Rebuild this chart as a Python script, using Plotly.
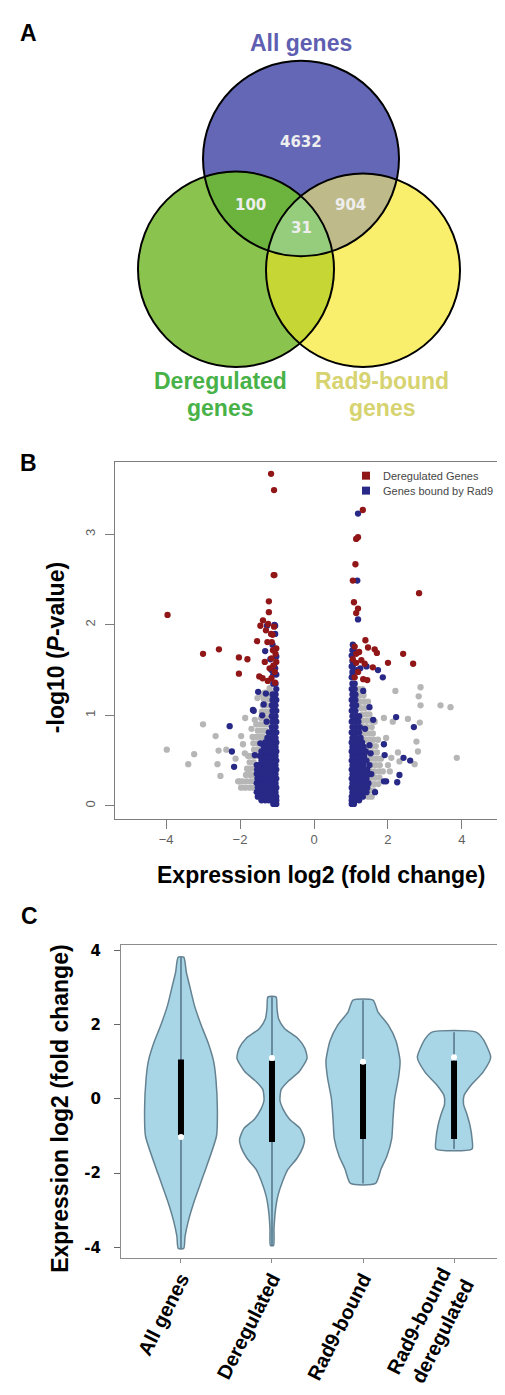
import numpy as np
import plotly.graph_objects as go

W, H = 505, 1395

# ---------------- A: Venn diagram ----------------
region_names = ["All only", "All & Deregulated", "All & Rad9-bound", "All three"]
region_counts = [4632, 100, 904, 31]

# ---------------- B: volcano plot ----------------
red_x = [-3.96, -3.0, -2.57, -2.03, -1.80, -2.03, -1.54, -1.38, -1.22, -1.22, -1.16, -1.14,
         -1.02, -1.11, -1.33, -1.15, -1.02, -1.20, -1.06, -1.48, -1.39, -1.15, -1.24, -1.08,
         -1.16, -1.08, -1.09, -1.07, -1.45, -1.30, -1.26, -1.12, -1.05, -1.25, -1.10, -1.04,
         2.84, 1.32, 1.14, 1.19, 1.12, 1.05, 1.08, 1.19, 1.14, 1.39, 1.46, 1.64, 1.70, 2.41,
         2.68, 2.00, 1.10, 1.14, 1.28, 1.14, 1.37, 1.59, 1.19, 1.33, 1.44, 1.10, 1.05, 1.22]
red_y = [2.11, 1.68, 1.73, 1.64, 1.62, 1.46, 1.82, 2.05, 2.26, 2.14, 1.90, 1.81,
         1.74, 1.72, 1.59, 1.63, 1.59, 1.52, 1.48, 1.43, 1.41, 1.41, 2.01, 1.98,
         3.67, 3.49, 2.55, 2.55, 1.99, 1.94, 1.81, 1.89, 1.36, 1.38, 1.55, 1.68,
         2.35, 3.27, 2.95, 2.97, 2.67, 2.49, 2.25, 2.18, 2.13, 1.83, 1.75, 1.73, 1.69, 1.68,
         1.57, 1.58, 1.76, 1.68, 1.61, 1.58, 1.57, 1.53, 1.48, 1.40, 1.39, 1.42, 1.62, 1.70]

# Rad9-bound genes: scattered points
blue_x = [-1.07, -1.05, -1.27, -1.32, -1.18, -1.05, -1.10, -1.51, -1.65, -1.11, -1.06, -2.28,
          -2.22, -2.16, -1.60, -1.51, -1.24, -1.63, -1.45, -1.40, -1.30, -1.05, -1.12, -1.02,
          -1.08, -1.15, -1.02, -1.10, -1.28, -1.36,
          1.19, 1.17, 1.19, 1.86, 1.73, 1.42, 1.50, 2.22, 2.70, 1.89, 1.91, 1.50, 2.42, 2.60,
          2.31, 2.25, 1.95, 1.89, 1.53, 1.60, 1.55, 1.65, 1.05, 1.10, 1.05, 1.15, 1.05, 1.25,
          1.33, 1.38]
blue_y = [2.00, 1.99, 1.99, 1.71, 1.62, 1.52, 1.45, 1.26, 1.06, 1.17, 0.95, 0.88,
          0.60, 0.43, 0.56, 0.45, 0.71, 1.05, 0.69, 1.00, 1.24, 1.90, 1.78, 1.65,
          1.55, 1.50, 1.45, 1.35, 0.93, 1.12,
          3.23, 2.49, 2.06, 1.42, 1.50, 1.54, 1.09, 0.98, 0.87, 0.68, 0.56, 0.67, 0.53, 0.50,
          0.34, 0.26, 0.27, 0.27, 0.58, 0.95, 0.35, 0.15, 1.78, 1.70, 1.55, 1.50, 1.45, 1.52,
          1.27, 0.85]

# Rad9-bound genes: dense columns next to the |log2FC| = 1 cut (y level -> x values)
blue_rows = {
    0.02: [-1.02, -1.10, 1.02, 1.08],
    0.06: [-1.02, -1.12, -1.22, -1.32, -1.42, 1.02, 1.12, 1.22],
    0.10: [-1.02, -1.12, -1.22, -1.32, -1.42, -1.52, 1.02, 1.12, 1.22, 1.32],
    0.15: [-1.04, -1.14, -1.24, -1.34, -1.44, -1.55, 1.04, 1.14, 1.24, 1.34, 1.42],
    0.20: [-1.02, -1.12, -1.22, -1.32, -1.42, -1.52, 1.02, 1.12, 1.22, 1.32, 1.44],
    0.25: [-1.04, -1.14, -1.24, -1.34, -1.44, -1.55, 1.04, 1.14, 1.24, 1.34, 1.47],
    0.30: [-1.02, -1.12, -1.22, -1.32, -1.42, -1.53, 1.02, 1.12, 1.22, 1.32, 1.42],
    0.35: [-1.04, -1.14, -1.24, -1.34, -1.44, -1.55, 1.04, 1.14, 1.24, 1.34, 1.48],
    0.40: [-1.02, -1.12, -1.22, -1.32, -1.42, -1.54, 1.02, 1.12, 1.22, 1.32, 1.44],
    0.45: [-1.04, -1.14, -1.24, -1.34, -1.44, -1.55, 1.04, 1.14, 1.24, 1.34, 1.50],
    0.50: [-1.02, -1.12, -1.22, -1.32, -1.42, 1.02, 1.12, 1.22, 1.32, 1.42],
    0.55: [-1.04, -1.14, -1.24, -1.34, -1.46, 1.04, 1.14, 1.24, 1.36],
    0.60: [-1.02, -1.12, -1.22, -1.32, -1.42, 1.02, 1.12, 1.22, 1.32, 1.40],
    0.65: [-1.04, -1.14, -1.24, -1.36, 1.04, 1.14, 1.24, 1.34],
    0.70: [-1.02, -1.12, -1.22, -1.32, 1.02, 1.12, 1.22, 1.30],
    0.75: [-1.04, -1.14, -1.26, 1.04, 1.14, 1.26],
    0.81: [-1.02, -1.12, -1.22, 1.02, 1.12, 1.22],
    0.87: [-1.04, -1.14, 1.04, 1.14, 1.24],
    0.93: [-1.02, -1.12, 1.02, 1.12, 1.20],
    0.99: [-1.04, -1.14, 1.04, 1.14, 1.22],
    1.05: [-1.02, -1.12, 1.02, 1.12],
    1.11: [-1.04, -1.14, 1.04, 1.14],
    1.17: [-1.02, -1.12, 1.02, 1.12],
    1.23: [-1.04, -1.12, 1.04, 1.12],
    1.29: [-1.02, 1.02, 1.10],
    1.35: [-1.04, 1.04, 1.10],
    1.42: [1.02],
    1.48: [1.04],
    1.54: [1.02],
    1.60: [1.04],
    1.66: [1.02],
    1.72: [1.04],
}

# other genes (grey)
gray_x = [-3.98, -3.24, -3.40, -3.00, -2.66, -2.61, -2.53, -2.37, -2.01, -1.97, -1.86, -1.87,
          -1.78, -1.69, -1.60, -1.53, -1.42, -2.05, -2.58, -2.12, -1.92,
          2.20, 2.88, 2.83, 2.88, 3.42, 3.69, 1.89, 2.13, 2.54, 2.86, 2.77, 2.81, 2.72, 3.86,
          2.27, 2.31, 2.09, 1.64, 2.00, 1.95, 2.05]
gray_y = [0.62, 0.57, 0.46, 0.90, 0.77, 0.46, 0.33, 0.62, 0.27, 0.77, 0.97, 0.58,
          0.36, 0.85, 0.95, 1.19, 1.23, 0.27, 0.61, 0.52, 0.68,
          1.27, 1.31, 1.21, 1.11, 1.11, 1.09, 0.97, 0.93, 0.96, 0.92, 0.71, 0.60, 0.46, 0.53,
          0.59, 0.49, 0.53, 0.93, 0.45, 0.75, 0.38]
gray_rows = {
    0.10: [1.46, 1.56],
    0.17: [1.50, 1.61],
    0.20: [-1.64, -1.74, -1.86, -1.97],
    0.24: [1.53, 1.63, 1.74],
    0.27: [-1.61, -1.71, -1.82, -1.93],
    0.31: [1.56, 1.66, 1.77],
    0.34: [-1.64, -1.73, -1.84],
    0.38: [1.54, 1.64, 1.76, 1.86],
    0.41: [-1.60, -1.70, -1.81],
    0.45: [1.57, 1.67, 1.78],
    0.48: [-1.63, -1.74],
    0.52: [1.52, 1.62, 1.71, 1.81],
    0.55: [-1.58, -1.67, -1.78],
    0.59: [1.49, 1.59, 1.70],
    0.62: [-1.52, -1.62],
    0.66: [1.46, 1.56, 1.67],
    0.69: [-1.44, -1.54, -1.64],
    0.73: [1.40, 1.51, 1.61, 1.73],
    0.76: [-1.37, -1.47, -1.57, -1.66],
    0.80: [1.37, 1.48, 1.59],
    0.83: [-1.31, -1.41, -1.52],
    0.87: [1.33, 1.44, 1.56],
    0.90: [-1.27, -1.36, -1.46, -1.56],
    0.94: [1.31, 1.42, 1.53],
    0.97: [-1.24, -1.33, -1.43],
    1.01: [1.30, 1.41, 1.50],
    1.04: [-1.22, -1.31, -1.41],
    1.08: [1.27, 1.38],
    1.11: [-1.20, -1.29, -1.38],
    1.15: [1.25, 1.36, 1.46],
    1.18: [-1.19, -1.27, -1.36],
    1.22: [1.23, 1.34],
    1.25: [-1.16, -1.25, -1.33],
    1.29: [1.21, 1.31],
    1.30: [-1.20],
}

# ---------------- C: violin plots ----------------
groups = ["All genes", "Deregulated", "Rad9-bound", "Rad9-bound<br>deregulated"]
prof_y = [
    [-4.03, -3.7, -3.3, -2.8, -2.0, -1.0, -0.3, 0.5, 1.0, 1.5, 2.0, 2.5, 3.0, 3.4, 3.82],
    [-3.95, -3.5, -3.0, -2.6, -2.2, -1.9, -1.6, -1.3, -1.1, -0.8, -0.54, -0.27, -0.05, 0.25,
     0.47, 0.74, 1.1, 1.37, 1.63, 1.9, 2.17, 2.45, 2.75],
    [-2.28, -1.89, -1.53, -1.08, -0.52, 0.02, 0.57, 1.02, 1.56, 2.0, 2.34, 2.66],
    [-1.35, -1.08, -0.72, -0.4, -0.14, 0.09, 0.36, 0.72, 1.12, 1.61, 1.8],
]
prof_w = [
    [0.03, 0.045, 0.08, 0.14, 0.255, 0.39, 0.40, 0.385, 0.36, 0.30, 0.22, 0.15, 0.10, 0.06, 0.03],
    [0.017, 0.022, 0.038, 0.066, 0.12, 0.175, 0.275, 0.34, 0.357, 0.31, 0.19, 0.12, 0.088, 0.10,
     0.175, 0.30, 0.385, 0.36, 0.285, 0.137, 0.071, 0.055, 0.044],
    [0.137, 0.198, 0.264, 0.315, 0.33, 0.348, 0.39, 0.407, 0.363, 0.275, 0.165, 0.11],
    [0.198, 0.198, 0.176, 0.14, 0.104, 0.11, 0.184, 0.319, 0.403, 0.319, 0.242],
]
q1 = [-0.97, -1.16, -1.08, -1.08]
q3 = [1.06, 1.03, 0.94, 1.03]
medians = [-1.03, 1.10, 1.00, 1.12]

# ---------------- colours ----------------
RED, BLUE, GREY = "rgb(145,22,24)", "rgb(40,40,135)", "rgb(182,182,182)"
VIO_FILL, VIO_LINE = "rgb(168,214,230)", "rgb(100,130,145)"
C_ALL, C_DER, C_RAD = "rgb(100,103,182)", "rgb(138,196,78)", "rgb(250,239,108)"
C_ALL_DER, C_ALL_RAD, C_DER_RAD, C_3 = "rgb(108,180,62)", "rgb(190,186,138)", "rgb(198,214,52)", "rgb(150,205,125)"


def px(x):
    return x / W


def py(y):
    return 1 - y / H


fig = go.Figure()

# volcano points: grey, then blue, then red on top
gx = gray_x + [x for yv, xs in gray_rows.items() for x in xs]
gy = gray_y + [yv for yv, xs in gray_rows.items() for x in xs]
bx = [x for yv, xs in blue_rows.items() for x in xs] + blue_x
by = [yv for yv, xs in blue_rows.items() for x in xs] + blue_y
for xs, ys, col in [(gx, gy, GREY), (bx, by, BLUE), (red_x, red_y, RED)]:
    fig.add_trace(go.Scatter(x=xs, y=ys, mode="markers", xaxis="x", yaxis="y",
                             marker=dict(color=col, size=6.3, line=dict(width=0)),
                             showlegend=False, hoverinfo="skip"))

# violins
for i in range(len(groups)):
    ys, ws = prof_y[i], prof_w[i]
    vx = [i + w for w in ws] + [i - w for w in ws[::-1]] + [i + ws[0]]
    vy = ys + ys[::-1] + [ys[0]]
    fig.add_trace(go.Scatter(x=vx, y=vy, mode="lines", fill="toself", fillcolor=VIO_FILL,
                             line=dict(color=VIO_LINE, width=1.5, shape="spline", smoothing=0.6),
                             xaxis="x2", yaxis="y2", showlegend=False, hoverinfo="skip"))
    fig.add_trace(go.Scatter(x=[i, i], y=[ys[0], ys[-1]], mode="lines",
                             line=dict(color="rgb(85,115,135)", width=1.5),
                             xaxis="x2", yaxis="y2", showlegend=False, hoverinfo="skip"))
    fig.add_trace(go.Scatter(x=[i, i], y=[q1[i], q3[i]], mode="lines",
                             line=dict(color="black", width=6),
                             xaxis="x2", yaxis="y2", showlegend=False, hoverinfo="skip"))
    fig.add_trace(go.Scatter(x=[i], y=[medians[i]], mode="markers",
                             marker=dict(color="white", size=6, line=dict(width=0)),
                             xaxis="x2", yaxis="y2", showlegend=False, hoverinfo="skip"))

# Venn geometry (canvas pixel units of the panel)
circles = {"all": (293, 147, 98), "der": (228, 258, 98), "rad": (355, 259, 97)}


def region_path(keys):
    t = np.linspace(0, 2 * np.pi, 720, endpoint=False)
    pts = []
    for k in keys:
        cx, cy, r = circles[k]
        xx, yy = cx + r * np.cos(t), cy + r * np.sin(t)
        ok = np.ones_like(xx, dtype=bool)
        for j in keys:
            if j != k:
                jx, jy, jr = circles[j]
                ok &= (xx - jx) ** 2 + (yy - jy) ** 2 <= jr ** 2 + 1e-6
        pts.append(np.c_[xx[ok], yy[ok]])
    pts = np.vstack(pts)
    c = pts.mean(axis=0)
    pts = pts[np.argsort(np.arctan2(pts[:, 1] - c[1], pts[:, 0] - c[0]))]
    return "M " + " L ".join(f"{a:.2f},{b:.2f}" for a, b in pts) + " Z"


shapes = []
for k, col in [("der", C_DER), ("rad", C_RAD), ("all", C_ALL)]:
    cx, cy, r = circles[k]
    shapes.append(dict(type="circle", xref="x3", yref="y3", x0=cx - r, x1=cx + r,
                       y0=cy - r, y1=cy + r, fillcolor=col, line=dict(width=0)))
for keys, col in [(("der", "rad"), C_DER_RAD), (("all", "der"), C_ALL_DER),
                  (("all", "rad"), C_ALL_RAD), (("all", "der", "rad"), C_3)]:
    shapes.append(dict(type="path", xref="x3", yref="y3", path=region_path(keys),
                       fillcolor=col, line=dict(width=0)))
for k in ["der", "rad", "all"]:
    cx, cy, r = circles[k]
    shapes.append(dict(type="circle", xref="x3", yref="y3", x0=cx - r, x1=cx + r,
                       y0=cy - r, y1=cy + r, line=dict(color="black", width=2)))

# volcano legend keys
for yk, col in [(465, RED), (480, BLUE)]:
    shapes.append(dict(type="rect", xref="paper", yref="paper", x0=px(354), x1=px(362),
                       y0=py(yk + 4), y1=py(yk - 4), fillcolor=col, line=dict(width=0)))

BOLD = "Liberation Sans"
ann = []


def note(text, x, y, size=23, color="black", family=BOLD, angle=0, xanchor="center", xref="paper", yref="paper"):
    ann.append(dict(text=text, x=x, y=y, xref=xref, yref=yref, showarrow=False, textangle=angle,
                    xanchor=xanchor, yanchor="middle", font=dict(family=family, size=size, color=color)))


for letter, (lx, ly) in zip("ABC", [(20, 21), (20, 452), (21, 907)]):
    note(f"<b>{letter}</b>", px(lx), py(ly))

note("<b>All genes</b>", 293, 31, color="rgb(95,95,178)", xref="x3", yref="y3")
note("<b>Deregulated</b>", 212, 370, color="rgb(72,178,72)", xref="x3", yref="y3")
note("<b>genes</b>", 212, 397, color="rgb(72,178,72)", xref="x3", yref="y3")
note("<b>Rad9-bound</b>", 374, 370, color="rgb(214,211,112)", xref="x3", yref="y3")
note("<b>genes</b>", 374, 397, color="rgb(214,211,112)", xref="x3", yref="y3")
for (nx, ny), cnt in zip([(293, 130), (242, 194), (342, 194), (293, 217)], region_counts):
    note(f"<b>{cnt}</b>", nx, ny, size=15, color="rgb(238,238,238)", family="DejaVu Sans",
         xref="x3", yref="y3")

note("Deregulated Genes", px(373), py(465), size=11, color="rgb(70,70,70)", family="Liberation Sans", xanchor="left")
note("Genes bound by Rad9", px(373), py(480), size=11, color="rgb(70,70,70)", family="Liberation Sans", xanchor="left")

note("<b>-log10 (<i>P</i>-value)</b>", px(48), py(638), angle=-90)
note("<b>Expression log2 (fold change)</b>", px(313), py(865))
note("<b>Expression log2 (fold change)</b>", px(52), py(1100), angle=-90)

AX_GREY = "rgb(125,125,125)"
fig.update_layout(
    width=W, height=H, margin=dict(l=0, r=0, t=0, b=0),
    paper_bgcolor="white", plot_bgcolor="white",
    shapes=shapes, annotations=ann,
    xaxis=dict(domain=[px(107), 1], range=[-5.38, 5.38], anchor="y",
               showline=True, linecolor=AX_GREY, linewidth=1, mirror=True,
               ticks="outside", ticklen=9, tickcolor=AX_GREY, tickvals=[-4, -2, 0, 2, 4],
               tickfont=dict(family="Liberation Sans", size=13, color="rgb(95,95,95)"),
               showgrid=False, zeroline=False),
    yaxis=dict(domain=[py(809), py(451)], range=[-0.143, 3.804], anchor="x",
               showline=True, linecolor=AX_GREY, linewidth=1,
               ticks="outside", ticklen=9, tickcolor=AX_GREY, tickvals=[0, 1, 2, 3], tickangle=-90,
               ticklabelstandoff=5,
               tickfont=dict(family="Liberation Sans", size=13, color="rgb(95,95,95)"),
               showgrid=False, zeroline=False),
    xaxis2=dict(domain=[px(113), px(502)], range=[-0.659, 3.615], anchor="y2",
                showline=True, linecolor="rgb(140,140,140)", linewidth=1, mirror=True,
                ticks="outside", ticklen=4, tickcolor="rgb(140,140,140)",
                tickvals=[0, 1, 2, 3], ticktext=[f"<b>{g}</b>" for g in groups], tickangle=-63,
                ticklabelstandoff=-4,
                tickfont=dict(family=BOLD, size=20, color="black"),
                showgrid=False, zeroline=False),
    yaxis2=dict(domain=[py(1250), py(936)], range=[-4.30, 4.14], anchor="x2",
                showline=True, linecolor="rgb(140,140,140)", linewidth=1, mirror=True,
                ticks="outside", ticklen=6, tickcolor="rgb(100,100,100)",
                tickvals=[-4, -2, 0, 2, 4], ticktext=["<b>-4</b>", "<b>-2</b>", "<b>0</b>", "<b>2</b>", "<b>4</b>"],
                ticklabelstandoff=10,
                tickfont=dict(family="DejaVu Sans", size=15, color="black"),
                showgrid=False, zeroline=False),
    xaxis3=dict(domain=[0, 1], range=[0, W], anchor="y3", visible=False),
    yaxis3=dict(domain=[py(445), 1], range=[445, 0], anchor="x3", visible=False),
)

fig.write_html("out.html")
